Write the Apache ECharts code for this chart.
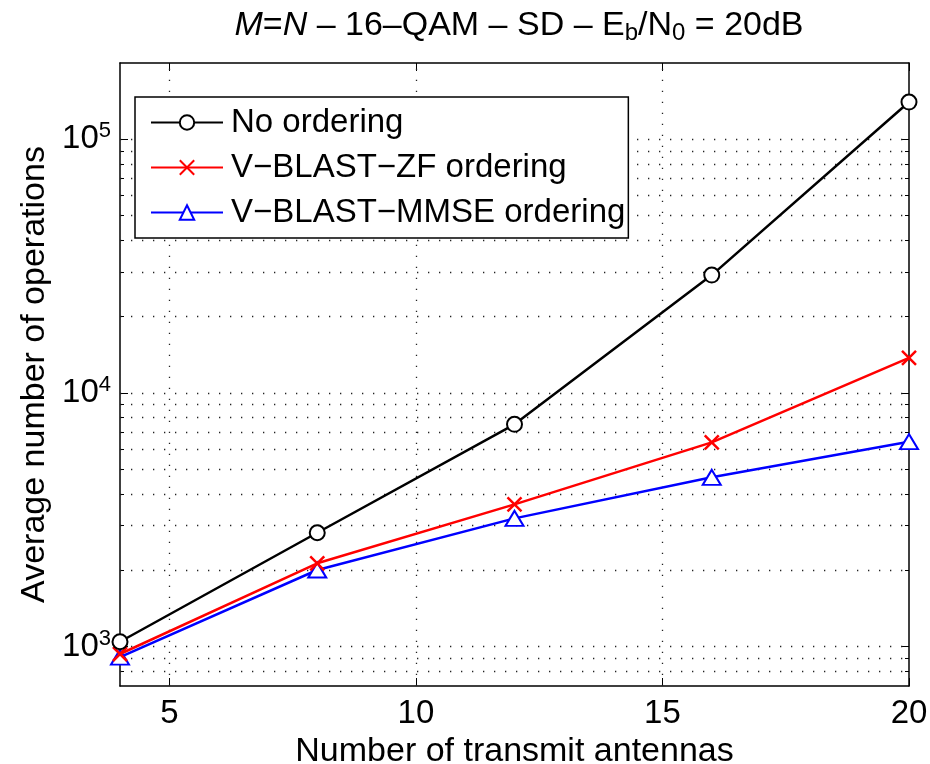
<!DOCTYPE html>
<html>
<head>
<meta charset="utf-8">
<script src="https://cdn.jsdelivr.net/npm/echarts@6/dist/echarts.min.js"></script>
<style>
html, body { margin: 0; padding: 0; background: #fff; }
#chart { width: 930px; height: 764px; }
</style>
</head>
<body>
<div id="chart"></div>
<script>
// number of transmit antennas (M = N)
const antennas = [4, 8, 12, 16, 20];
const noOrdering = [1046, 2814, 7526, 29170, 140300];
const zfOrdering = [936, 2132, 3641, 6393, 13770];
const mmseOrdering = [910, 2006, 3206, 4654, 6430];

const xTicks = [5, 10, 15, 20];
const xGrid = [5, 10, 15];
const yTicks = [1000, 10000, 100000];
const yGrid = [800, 900, 1000, 2000, 3000, 4000, 5000, 6000, 7000, 8000, 9000,
  10000, 20000, 30000, 40000, 50000, 60000, 70000, 80000, 90000, 100000];

const FONT = '"Liberation Sans", Arial, sans-serif';

const chart = echarts.init(document.getElementById('chart'));

function pair(xs, ys) {
  return xs.map((x, i) => [x, ys[i]]);
}

const gridLines = yGrid.map(v => ({ yAxis: v })).concat(xGrid.map(v => ({ xAxis: v })));

const lineAxis = { show: true, onZero: false, lineStyle: { color: '#000', width: 1.5 } };

// log axis skeleton used for the left/right frame and tick marks
function logAxis(pos, ticks, len, showLine) {
  return {
    type: 'log',
    position: pos,
    min: 700,
    max: 200000,
    axisLine: showLine ? lineAxis : { show: false },
    axisTick: { show: true, inside: true, length: len, customValues: ticks, lineStyle: { color: '#000', width: 1 } },
    axisLabel: { show: false },
    splitLine: { show: false }
  };
}

const option = {
  animation: false,
  backgroundColor: '#fff',
  textStyle: { fontFamily: FONT },
  title: {
    text: '{i|M}={i|N} \u2013 16\u2013QAM \u2013 SD \u2013 E{s|b}/N{s|0} = 20dB',
    left: 514,
    textAlign: 'center',
    top: 2,
    textStyle: {
      fontFamily: FONT, fontSize: 34, fontWeight: 'normal', color: '#000', lineHeight: 38,
      rich: {
        i: { fontFamily: FONT, fontSize: 34, fontStyle: 'italic', color: '#000', lineHeight: 38 },
        s: { fontFamily: FONT, fontSize: 24, color: '#000', verticalAlign: 'bottom', lineHeight: 16 }
      }
    }
  },
  legend: {
    orient: 'vertical',
    left: 135,
    top: 97,
    padding: [7, 3, 7, 15],
    itemGap: 8,
    itemWidth: 72,
    itemHeight: 18,
    backgroundColor: '#fff',
    borderColor: '#000',
    borderWidth: 1.5,
    borderRadius: 0,
    textStyle: { fontFamily: FONT, fontSize: 33, color: '#000', lineHeight: 37, padding: [0, 0, 0, 3] },
    data: ['No ordering', 'V\u2212BLAST\u2212ZF ordering', 'V\u2212BLAST\u2212MMSE ordering']
  },
  grid: { left: 120, right: 21, top: 63, bottom: 78, containLabel: false, outerBoundsMode: 'none' },
  xAxis: [{
    type: 'value',
    min: 4,
    max: 20,
    name: 'Number of transmit antennas',
    nameLocation: 'middle',
    nameGap: 40,
    nameTextStyle: { fontFamily: FONT, fontSize: 34, color: '#000' },
    axisLine: lineAxis,
    axisTick: { show: true, inside: true, length: 8, customValues: xTicks, lineStyle: { color: '#000' } },
    axisLabel: { customValues: xTicks, fontFamily: FONT, fontSize: 33, color: '#000', margin: 11 },
    splitLine: { show: false }
  }, {
    type: 'value',
    position: 'top',
    min: 4,
    max: 20,
    axisLine: lineAxis,
    axisTick: { show: true, inside: true, length: 8, customValues: xTicks, lineStyle: { color: '#000' } },
    axisLabel: { show: false },
    splitLine: { show: false }
  }],
  yAxis: [{
    type: 'log',
    min: 700,
    max: 200000,
    name: 'Average number of operations',
    nameLocation: 'middle',
    nameGap: 68,
    nameTextStyle: { fontFamily: FONT, fontSize: 34, color: '#000' },
    axisLine: lineAxis,
    axisTick: { show: true, inside: true, length: 8, customValues: yTicks, lineStyle: { color: '#000' } },
    axisLabel: {
      customValues: yTicks,
      margin: 9,
      formatter: function (v) {
        const e = Math.round(Math.log10(v));
        if (Math.abs(Math.log10(v) - e) > 1e-6) return '';
        return '{b|10}{p|' + e + '}';
      },
      rich: {
        b: { fontFamily: FONT, fontSize: 33, color: '#000', lineHeight: 38 },
        p: { fontFamily: FONT, fontSize: 22, color: '#000', verticalAlign: 'top', lineHeight: 13 }
      }
    },
    splitLine: { show: false }
  },
  logAxis('right', yTicks, 8, true),
  logAxis('left', yGrid, 4, false),
  logAxis('right', yGrid, 4, false)],
  series: [{
    name: 'No ordering',
    type: 'line',
    data: pair(antennas, noOrdering),
    symbol: 'emptyCircle',
    symbolSize: 15,
    itemStyle: { color: '#000', borderWidth: 2.2 },
    lineStyle: { color: '#000', width: 2.5 },
    z: 5,
    markLine: {
      silent: true,
      symbol: 'none',
      label: { show: false },
      lineStyle: { color: '#222', width: 1.3, type: [1.3, 9.7] },
      data: gridLines,
      z: 1
    }
  }, {
    name: 'V\u2212BLAST\u2212ZF ordering',
    type: 'line',
    data: pair(antennas, zfOrdering),
    symbol: 'path://M0,0L10,10M0,10L10,0',
    symbolSize: 14,
    itemStyle: { color: '#f00', borderColor: '#f00', borderWidth: 2.5 },
    lineStyle: { color: '#f00', width: 2.5 },
    z: 4
  }, {
    name: 'V\u2212BLAST\u2212MMSE ordering',
    type: 'line',
    data: pair(antennas, mmseOrdering),
    symbol: 'emptyTriangle',
    symbolSize: [18, 15],
    itemStyle: { color: '#00f', borderWidth: 2.5 },
    lineStyle: { color: '#00f', width: 2.5 },
    z: 3
  }]
};

chart.setOption(option);
</script>
</body>
</html>
